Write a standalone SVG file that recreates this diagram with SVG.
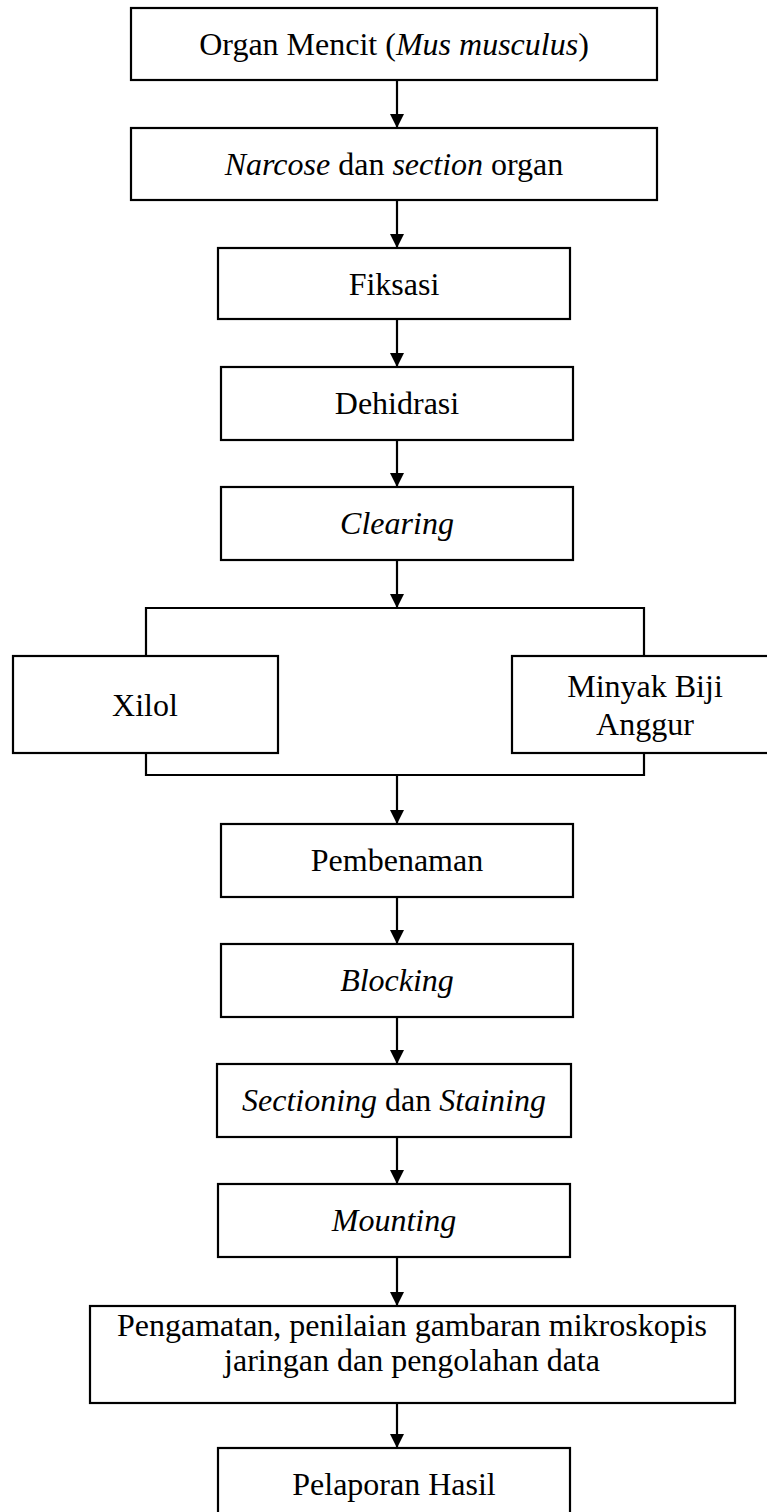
<svg xmlns="http://www.w3.org/2000/svg" width="767" height="1512" viewBox="0 0 767 1512">
<style>
rect{fill:#fff;stroke:#000;stroke-width:2.2}
text{font-family:"Liberation Serif","Times New Roman",serif;font-size:32px;fill:#000;text-anchor:middle}
.i{font-style:italic}
.c{fill:none;stroke:#000;stroke-width:2.2}
</style>
<defs>
<marker id="ah" markerWidth="14" markerHeight="14" refX="14" refY="7" orient="auto" markerUnits="userSpaceOnUse"><path d="M0,0 L14,7 L0,14 z" fill="#000"/></marker>
</defs>
<rect x="0" y="0" width="767" height="1512" style="fill:#fff;stroke:none"/>
<g id="connectors">
<line class="c" x1="397" y1="80" x2="397" y2="128" marker-end="url(#ah)"/>
<line class="c" x1="397" y1="200" x2="397" y2="248" marker-end="url(#ah)"/>
<line class="c" x1="397" y1="319" x2="397" y2="367" marker-end="url(#ah)"/>
<line class="c" x1="397" y1="440" x2="397" y2="487" marker-end="url(#ah)"/>
<line class="c" x1="397" y1="560" x2="397" y2="608" marker-end="url(#ah)"/>
<path class="c" d="M146,656 V608 H644 V656"/>
<path class="c" d="M146,753 V775 H644 V753"/>
<line class="c" x1="397" y1="775" x2="397" y2="824" marker-end="url(#ah)"/>
<line class="c" x1="397" y1="897" x2="397" y2="944" marker-end="url(#ah)"/>
<line class="c" x1="397" y1="1017" x2="397" y2="1064" marker-end="url(#ah)"/>
<line class="c" x1="397" y1="1137" x2="397" y2="1184" marker-end="url(#ah)"/>
<line class="c" x1="397" y1="1257" x2="397" y2="1306" marker-end="url(#ah)"/>
<line class="c" x1="397" y1="1403" x2="397" y2="1448" marker-end="url(#ah)"/>
</g>
<g id="n1"><rect x="131" y="8" width="526" height="72"/><text x="394" y="55">Organ Mencit (<tspan class="i">Mus musculus</tspan>)</text></g>
<g id="n2"><rect x="131" y="128" width="526" height="72"/><text x="394" y="175"><tspan class="i">Narcose</tspan> dan <tspan class="i">section</tspan> organ</text></g>
<g id="n3"><rect x="218" y="248" width="352" height="71"/><text x="394" y="295">Fiksasi</text></g>
<g id="n4"><rect x="221" y="367" width="352" height="73"/><text x="397" y="414">Dehidrasi</text></g>
<g id="n5"><rect x="221" y="487" width="352" height="73"/><text x="397" y="534" class="i">Clearing</text></g>
<g id="n6"><rect x="13" y="656" width="265" height="97"/><text x="145" y="716">Xilol</text></g>
<g id="n7"><rect x="512" y="656" width="266" height="97"/><text x="645" y="697">Minyak Biji</text><text x="645" y="735">Anggur</text></g>
<g id="n8"><rect x="221" y="824" width="352" height="73"/><text x="397" y="871">Pembenaman</text></g>
<g id="n9"><rect x="221" y="944" width="352" height="73"/><text x="397" y="991" class="i">Blocking</text></g>
<g id="n10"><rect x="217" y="1064" width="354" height="73"/><text x="394" y="1111"><tspan class="i">Sectioning</tspan> dan <tspan class="i">Staining</tspan></text></g>
<g id="n11"><rect x="218" y="1184" width="352" height="73"/><text x="394" y="1231" class="i">Mounting</text></g>
<g id="n12"><rect x="90" y="1306" width="645" height="97"/><text x="412" y="1336">Pengamatan, penilaian gambaran mikroskopis</text><text x="412" y="1371">jaringan dan pengolahan data</text></g>
<g id="n13"><rect x="218" y="1448" width="352" height="72"/><text x="394" y="1495">Pelaporan Hasil</text></g>
</svg>
